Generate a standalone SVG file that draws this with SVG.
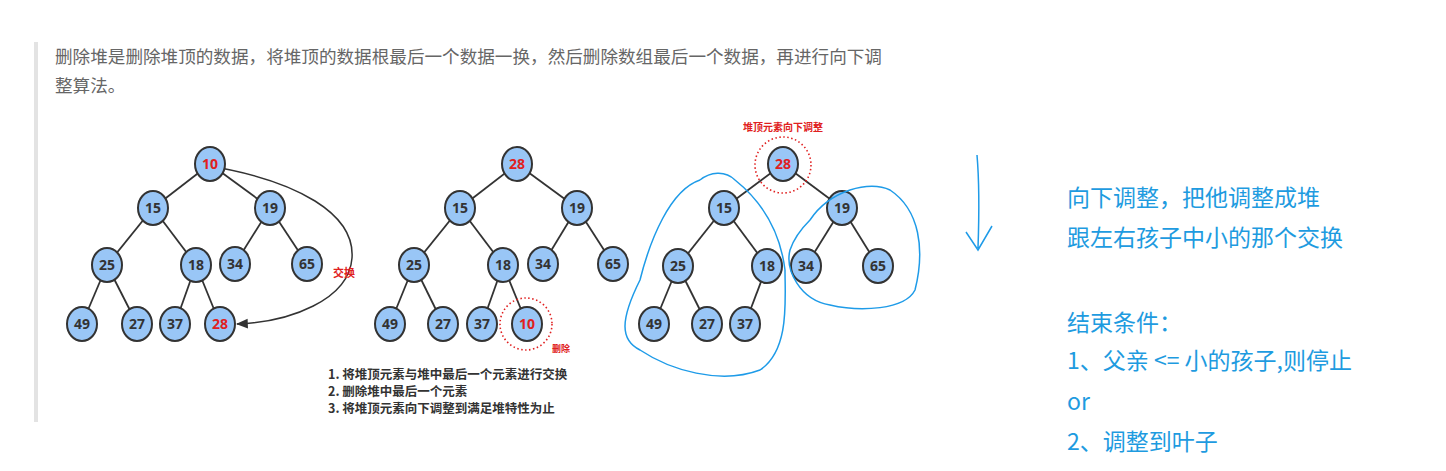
<svg xmlns="http://www.w3.org/2000/svg" width="1446" height="471" viewBox="0 0 1446 471">
<defs>
<style>
.n ellipse{fill:#99c6f6;stroke:#333;stroke-width:2}
.n text{font-family:"Open Sans","Noto Sans",sans-serif;font-size:14px;font-weight:700;text-anchor:middle;fill:#333}
.n text.r{fill:#e02020}
.e line{stroke:#333;stroke-width:1.8}
.cn{font-family:"Noto Sans CJK SC",sans-serif}
.blue{fill:#1e9be0;font-size:23px}
.hand{fill:none;stroke:#1e9be8;stroke-width:1.5}
</style>
<marker id="ar" viewBox="0 0 10 10" refX="9" refY="5" markerWidth="8" markerHeight="8" orient="auto"><path d="M0,1 L10,5 L0,9 z" fill="#333"/></marker>
</defs>
<rect width="1446" height="471" fill="#fff"/>
<rect x="34" y="42" width="4" height="380" fill="#e3e3e3"/>
<text class="cn" x="55" y="63" font-size="17.6" fill="#666">删除堆是删除堆顶的数据，将堆顶的数据根最后一个数据一换，然后删除数组最后一个数据，再进行向下调</text>
<text class="cn" x="55" y="92" font-size="17.6" fill="#666">整算法。</text>
<g id="connectors" class="e">
<line x1="210" y1="164" x2="153" y2="208"/><line x1="210" y1="164" x2="270" y2="208"/>
<line x1="153" y1="208" x2="107" y2="265"/><line x1="153" y1="208" x2="196" y2="265"/>
<line x1="270" y1="208" x2="235" y2="264"/><line x1="270" y1="208" x2="307" y2="264"/>
<line x1="107" y1="265" x2="82" y2="324"/><line x1="107" y1="265" x2="137" y2="324"/>
<line x1="196" y1="265" x2="175" y2="324"/><line x1="196" y1="265" x2="220" y2="324"/>
<line x1="517" y1="164" x2="460" y2="208"/><line x1="517" y1="164" x2="577" y2="208"/>
<line x1="460" y1="208" x2="414" y2="265"/><line x1="460" y1="208" x2="503" y2="265"/>
<line x1="577" y1="208" x2="543" y2="264"/><line x1="577" y1="208" x2="613" y2="264"/>
<line x1="414" y1="265" x2="390" y2="324"/><line x1="414" y1="265" x2="443" y2="324"/>
<line x1="503" y1="265" x2="482" y2="324"/><line x1="503" y1="265" x2="527" y2="324"/>
<line x1="783" y1="164" x2="724" y2="208"/><line x1="783" y1="164" x2="842" y2="208"/>
<line x1="724" y1="208" x2="678" y2="266"/><line x1="724" y1="208" x2="767" y2="266"/>
<line x1="842" y1="208" x2="806" y2="266"/><line x1="842" y1="208" x2="878" y2="266"/>
<line x1="678" y1="266" x2="654" y2="324"/><line x1="678" y1="266" x2="707" y2="324"/>
<line x1="767" y1="266" x2="745" y2="324"/>
<path d="M203,165 C300,180 355,215 352,258 C349,300 290,322 237,324" fill="none" stroke="#333" stroke-width="1.5" marker-end="url(#ar)"/>
</g>
<g id="t1" class="n">
<g id="a10"><ellipse cx="210" cy="164" rx="15" ry="17"/><text class="r" x="210" y="169">10</text></g>
<g id="a15"><ellipse cx="153" cy="208" rx="15" ry="17"/><text x="153" y="213">15</text></g>
<g id="a19"><ellipse cx="270" cy="208" rx="15" ry="17"/><text x="270" y="213">19</text></g>
<g id="a25"><ellipse cx="107" cy="265" rx="15" ry="17"/><text x="107" y="270">25</text></g>
<g id="a18"><ellipse cx="196" cy="265" rx="15" ry="17"/><text x="196" y="270">18</text></g>
<g id="a34"><ellipse cx="235" cy="264" rx="15" ry="17"/><text x="235" y="269">34</text></g>
<g id="a65"><ellipse cx="307" cy="264" rx="15" ry="17"/><text x="307" y="269">65</text></g>
<g id="a49"><ellipse cx="82" cy="324" rx="15" ry="17"/><text x="82" y="329">49</text></g>
<g id="a27"><ellipse cx="137" cy="324" rx="15" ry="17"/><text x="137" y="329">27</text></g>
<g id="a37"><ellipse cx="175" cy="324" rx="15" ry="17"/><text x="175" y="329">37</text></g>
<g id="a28"><ellipse cx="220" cy="324" rx="15" ry="17"/><text class="r" x="220" y="329">28</text></g>
</g>
<text class="cn" x="333" y="277" font-size="11" font-weight="bold" fill="#e02020">交换</text>
<g id="t2" class="n">
<g id="b28"><ellipse cx="517" cy="164" rx="15" ry="17"/><text class="r" x="517" y="169">28</text></g>
<g id="b15"><ellipse cx="460" cy="208" rx="15" ry="17"/><text x="460" y="213">15</text></g>
<g id="b19"><ellipse cx="577" cy="208" rx="15" ry="17"/><text x="577" y="213">19</text></g>
<g id="b25"><ellipse cx="414" cy="265" rx="15" ry="17"/><text x="414" y="270">25</text></g>
<g id="b18"><ellipse cx="503" cy="265" rx="15" ry="17"/><text x="503" y="270">18</text></g>
<g id="b34"><ellipse cx="543" cy="264" rx="15" ry="17"/><text x="543" y="269">34</text></g>
<g id="b65"><ellipse cx="613" cy="264" rx="15" ry="17"/><text x="613" y="269">65</text></g>
<g id="b49"><ellipse cx="390" cy="324" rx="15" ry="17"/><text x="390" y="329">49</text></g>
<g id="b27"><ellipse cx="443" cy="324" rx="15" ry="17"/><text x="443" y="329">27</text></g>
<g id="b37"><ellipse cx="482" cy="324" rx="15" ry="17"/><text x="482" y="329">37</text></g>
<g id="b10"><ellipse cx="527" cy="324" rx="15" ry="17"/><text class="r" x="527" y="329">10</text></g>
</g>
<circle cx="526" cy="324" r="26" fill="none" stroke="#e02020" stroke-width="1.6" stroke-dasharray="1.5 2.5"/>
<text class="cn" x="552" y="352" font-size="9" font-weight="bold" fill="#e02020">删除</text>
<g class="cn" font-size="12.5" font-weight="bold" fill="#333">
<text x="328" y="379">1. 将堆顶元素与堆中最后一个元素进行交换</text>
<text x="328" y="396">2. 删除堆中最后一个元素</text>
<text x="328" y="413">3. 将堆顶元素向下调整到满足堆特性为止</text>
</g>
<g id="t3" class="n">
<g id="c28"><ellipse cx="783" cy="164" rx="15" ry="17"/><text class="r" x="783" y="169">28</text></g>
<g id="c15"><ellipse cx="724" cy="208" rx="15" ry="17"/><text x="724" y="213">15</text></g>
<g id="c19"><ellipse cx="842" cy="208" rx="15" ry="17"/><text x="842" y="213">19</text></g>
<g id="c25"><ellipse cx="678" cy="266" rx="15" ry="17"/><text x="678" y="271">25</text></g>
<g id="c18"><ellipse cx="767" cy="266" rx="15" ry="17"/><text x="767" y="271">18</text></g>
<g id="c34"><ellipse cx="806" cy="266" rx="15" ry="17"/><text x="806" y="271">34</text></g>
<g id="c65"><ellipse cx="878" cy="266" rx="15" ry="17"/><text x="878" y="271">65</text></g>
<g id="c49"><ellipse cx="654" cy="324" rx="15" ry="17"/><text x="654" y="329">49</text></g>
<g id="c27"><ellipse cx="707" cy="324" rx="15" ry="17"/><text x="707" y="329">27</text></g>
<g id="c37"><ellipse cx="745" cy="324" rx="15" ry="17"/><text x="745" y="329">37</text></g>
</g>
<circle cx="783" cy="165" r="28" fill="none" stroke="#e02020" stroke-width="1.6" stroke-dasharray="1.5 2.5"/>
<text class="cn" x="783" y="131" font-size="10" font-weight="bold" fill="#e02020" text-anchor="middle">堆顶元素向下调整</text>
<path class="hand" d="M700,180 C670,190 650,240 640,280 C620,320 620,340 640,350 C670,370 720,385 760,370 C790,350 785,300 785,270 C780,230 760,200 735,180 C725,170 710,172 700,180"/>
<path class="hand" d="M810,220 C830,190 870,180 890,190 C920,210 925,250 915,290 C905,310 860,312 830,305 C800,300 785,270 790,250 C795,235 805,225 810,220"/>
<path class="hand" d="M977,155 C980,190 979,220 978,248 M966,232 L978,250 L992,226"/>
<g class="cn blue">
<text x="1067" y="206">向下调整，把他调整成堆</text>
<text x="1067" y="246">跟左右孩子中小的那个交换</text>
<text x="1067" y="331">结束条件：</text>
<text x="1067" y="369">1、父亲 &lt;= 小的孩子,则停止</text>
<text x="1067" y="410">or</text>
<text x="1067" y="450">2、调整到叶子</text>
</g>
</svg>
